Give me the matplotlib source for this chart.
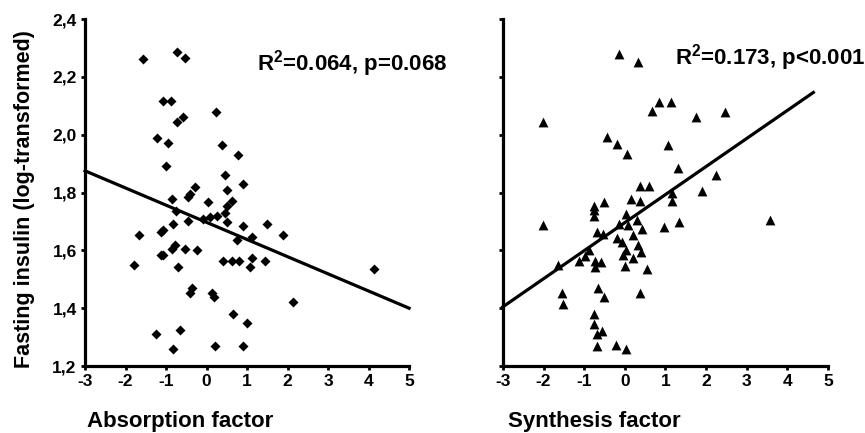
import matplotlib
matplotlib.use("Agg")
import matplotlib.pyplot as plt
from matplotlib.ticker import FuncFormatter

plt.rcParams['font.family'] = ['Liberation Sans', 'DejaVu Sans']
plt.rcParams['font.weight'] = 'bold'
plt.rcParams['mathtext.fontset'] = 'custom'
plt.rcParams['mathtext.rm'] = 'Liberation Sans:bold'
plt.rcParams['mathtext.it'] = 'Liberation Sans:bold'
plt.rcParams['mathtext.bf'] = 'Liberation Sans:bold'

# absorption factor vs fasting insulin (diamonds)
absorption_x = [-1.57, -0.73, -0.53, -1.07, -0.88, -0.73, -0.58, 0.23, -1.22, -0.95,
                0.38, 0.78, -1.00, 0.46, 0.90, -0.28, -0.41, 0.51, -0.85, 0.04,
                0.63, 0.51, -0.46, -0.75, -0.09, 0.09, 0.26, 0.46, 0.51, -0.46,
                -0.83, -1.07, -1.12, -1.67, 0.90, 0.75, 1.12, 1.49, 1.89, -0.78,
                -0.85, -1.13, -1.08, -0.53, -0.24, -1.79, -0.70, 0.41, 0.63, 0.80,
                1.12, 1.07, 1.44, -0.36, -0.41, 0.14, 0.19, 2.14, 0.65, 1.00,
                -1.25, -0.65, -0.83, 0.21, 0.90, 4.14]
absorption_y = [2.26, 2.285, 2.264, 2.115, 2.115, 2.045, 2.06, 2.08, 1.99, 1.97,
                1.965, 1.93, 1.89, 1.86, 1.83, 1.82, 1.795, 1.81, 1.777, 1.767,
                1.77, 1.753, 1.784, 1.735, 1.708, 1.715, 1.718, 1.73, 1.697, 1.70,
                1.69, 1.67, 1.663, 1.652, 1.683, 1.635, 1.645, 1.69, 1.652, 1.62,
                1.603, 1.585, 1.583, 1.603, 1.60, 1.551, 1.544, 1.562, 1.562, 1.562,
                1.572, 1.541, 1.562, 1.471, 1.454, 1.454, 1.44, 1.423, 1.38, 1.35,
                1.311, 1.325, 1.259, 1.27, 1.27, 1.537]
absorption_fit_x = [-3, 5]
absorption_fit_y = [1.875, 1.40]

# synthesis factor vs fasting insulin (triangles)
synthesis_x = [-0.14, 0.33, -2.01, 0.84, 1.14, 0.67, 1.75, 2.47, -0.44, -0.19,
               0.05, 1.06, 1.31, 2.25, 0.37, 0.60, 1.16, 1.90, -2.01, 0.15,
               0.37, 1.16, -0.76, -0.76, -0.76, -0.51, 0.03, 0.30, -0.14, 0.08,
               0.42, 0.97, 1.34, -0.69, -0.54, -0.19, -0.07, 0.20, 0.33, 0.40,
               0.03, -0.04, 0.20, 0.00, -0.88, -1.13, -0.98, -1.65, -0.73, -0.73,
               -0.58, 0.55, -1.55, -1.52, -0.66, -0.51, 0.37, -0.76, -0.76, -0.69,
               -0.56, -0.69, -0.22, 0.03, 3.58]
synthesis_y = [2.28, 2.252, 2.043, 2.113, 2.113, 2.082, 2.061, 2.078, 1.993, 1.969,
               1.934, 1.965, 1.885, 1.861, 1.822, 1.822, 1.80, 1.804, 1.689, 1.779,
               1.772, 1.772, 1.755, 1.738, 1.72, 1.766, 1.727, 1.706, 1.692, 1.687,
               1.673, 1.68, 1.697, 1.663, 1.656, 1.642, 1.628, 1.652, 1.617, 1.593,
               1.60, 1.583, 1.572, 1.545, 1.60, 1.562, 1.582, 1.551, 1.562, 1.541,
               1.559, 1.534, 1.454, 1.416, 1.471, 1.44, 1.454, 1.379, 1.344, 1.309,
               1.32, 1.27, 1.273, 1.259, 1.704]
synthesis_fit_x = [-3, 4.64]
synthesis_fit_y = [1.405, 2.146]

x_ticks = [-3, -2, -1, 0, 1, 2, 3, 4, 5]
y_ticks = [1.2, 1.4, 1.6, 1.8, 2.0, 2.2, 2.4]

fig = plt.figure(figsize=(8.65, 4.33), dpi=100)
ax1 = fig.add_axes([0.0983, 0.1547, 0.3746, 0.8014])
ax2 = fig.add_axes([0.5815, 0.1547, 0.3757, 0.8014])

ax1.scatter(absorption_x, absorption_y, marker='D', s=26, color='black', linewidths=0, zorder=3)
ax1.plot(absorption_fit_x, absorption_fit_y, color='black', lw=2.3, clip_on=False)
ax2.scatter(synthesis_x, synthesis_y, marker='^', s=50, color='black', linewidths=0, zorder=3)
ax2.plot(synthesis_fit_x, synthesis_fit_y, color='black', lw=2.3, clip_on=False)

comma = FuncFormatter(lambda v, p: ('%.1f' % v).replace('.', ','))
hyphen = FuncFormatter(lambda v, p: '%d' % v)
for ax in (ax1, ax2):
    ax.set_xlim(-3, 5)
    ax.set_ylim(1.2, 2.4)
    ax.set_xticks(x_ticks)
    ax.set_yticks(y_ticks)
    ax.xaxis.set_major_formatter(hyphen)
    for s in ('top', 'right'):
        ax.spines[s].set_visible(False)
    for s in ('left', 'bottom'):
        ax.spines[s].set_linewidth(2.3)
    ax.tick_params(direction='out', length=3, width=2, labelsize=12.5, pad=3)
    for lab in ax.get_xticklabels() + ax.get_yticklabels():
        lab.set_fontweight('bold')

ax1.yaxis.set_major_formatter(comma)
ax2.yaxis.set_major_formatter(FuncFormatter(lambda v, p: ''))

ax1.text(1.25, 2.223, 'R$^2$=0.064, p=0.068', fontsize=16, fontweight='bold')
ax2.text(1.24, 2.242, 'R$^2$=0.173, p<0.001', fontsize=16, fontweight='bold', clip_on=False)

fig.text(0.1006, 0.014, 'Absorption factor', fontsize=16, fontweight='bold', va='baseline')
fig.text(0.587, 0.014, 'Synthesis factor', fontsize=16, fontweight='bold', va='baseline')
fig.text(0.028, 0.54, 'Fasting insulin (log-transformed)', fontsize=15.5, fontweight='bold',
         rotation=90, ha='center', va='center')

fig.savefig('out.png', dpi=100)
